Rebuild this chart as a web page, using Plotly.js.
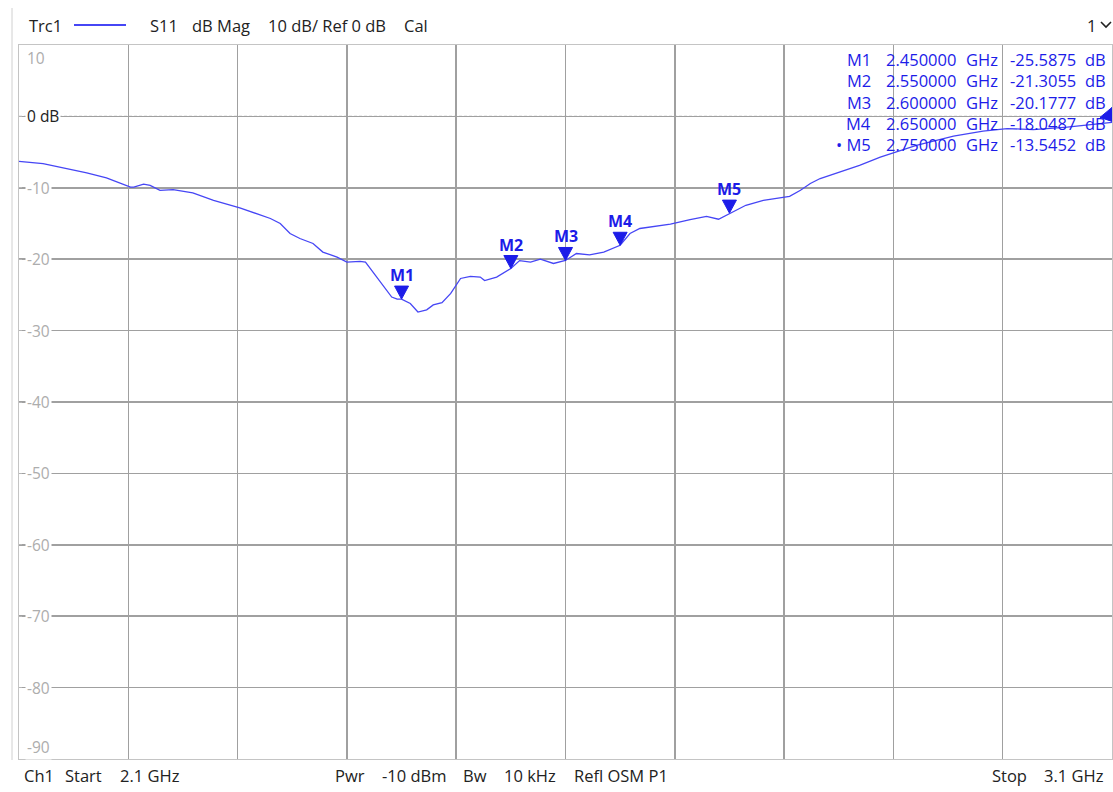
<!DOCTYPE html>
<html><head><meta charset="utf-8">
<script src="https://cdn.plot.ly/plotly-3.0.1.min.js"></script>
<style>html,body{margin:0;padding:0;background:#fff}#chart{width:1113px;height:792px}</style>
</head><body><div id="chart"></div>
<script>
// ---- data ----
const freqGHz = [2.100,2.122,2.162,2.180,2.202,2.205,2.214,2.220,2.229,2.241,2.259,2.278,2.302,2.330,2.339,2.348,2.357,2.369,2.378,2.391,2.400,2.412,2.417,2.424,2.433,2.441,2.446,2.450,2.458,2.465,2.473,2.479,2.487,2.495,2.504,2.513,2.522,2.526,2.537,2.550,2.558,2.568,2.577,2.589,2.600,2.610,2.622,2.635,2.650,2.659,2.668,2.680,2.696,2.714,2.729,2.740,2.747,2.750,2.765,2.781,2.799,2.805,2.815,2.824,2.833,2.851,2.869,2.888,2.903,2.921,2.955,2.982,3.004,3.028,3.059,3.089,3.100];
const s11dB = [-6.3,-6.6,-7.9,-8.6,-9.9,-9.9,-9.5,-9.65,-10.35,-10.25,-10.7,-11.75,-12.8,-14.3,-15.0,-16.4,-17.1,-17.8,-19.0,-19.7,-20.4,-20.3,-20.4,-21.8,-23.6,-25.3,-25.6,-25.5875,-26.2,-27.4,-27.1,-26.4,-26.1,-24.8,-22.7,-22.4,-22.5,-23.0,-22.5,-21.3055,-20.2,-20.4,-20.0,-20.6,-20.1777,-19.2,-19.4,-19.0,-18.0487,-16.4,-15.7,-15.4,-15.1,-14.45,-14.0,-14.4,-13.85,-13.5452,-12.45,-11.75,-11.3,-11.2,-10.35,-9.4,-8.7,-7.8,-6.85,-5.7,-5.0,-4.05,-2.75,-2.05,-1.7,-1.85,-1.5,-1.0,-0.85];
const markerNames = ['M1','M2','M3','M4','M5'];
const markerFreqGHz = [2.45,2.55,2.60,2.65,2.75];
const markerDB = [-25.5875,-21.3055,-20.1777,-18.0487,-13.5452];
const yTickVals = [10,0,-10,-20,-30,-40,-50,-60,-70,-80,-90];
const yTickLabels = ['10','0 dB','-10','-20','-30','-40','-50','-60','-70','-80','-90'];
const refLevelDB = 0;
const headerTexts = ['Trc1','S11','dB Mag','10 dB/ Ref 0 dB','Cal'];
const footerTexts = ['Ch1','Start','2.1 GHz','Pwr','-10 dBm','Bw','10 kHz','Refl OSM P1','Stop','3.1 GHz'];
const channelText = '1';

// ---- layout geometry (pixels) ----
const W = 1113, H = 792, L = 19, R = 1, T = 45, B = 33;
const PW = W - L - R, PH = H - T - B;
const px = x => (x - L) / PW;
const py = y => (H - B - y) / PH;
const headerX = [27,148,190,266,402];
const footerX = [22,63,118,333,380,461,502,572,990,1042];

const traceColor = '#4646f5';
const mkColor = '#1c1ce8';
const font = 'Open Sans, Noto Sans, sans-serif';
const FS = 16.5;

const annotations = [];
const shapes = [];

// y tick labels
yTickVals.forEach((v, i) => {
  const a = {xref:'paper', yref:'y', x: px(25), y: v, xanchor:'left', yanchor:'middle',
    text: yTickLabels[i], showarrow:false, bgcolor:'#ffffff', borderpad:1,
    font:{family:font, size:15.5, color: v === refLevelDB ? '#222' : '#adadad'}};
  if (i === 0) { a.yanchor = 'top'; a.yshift = 0; }
  if (i === yTickVals.length - 1) { a.yanchor = 'bottom'; a.yshift = -1; }
  annotations.push(a);
});

// header
headerTexts.forEach((t, i) => annotations.push({xref:'paper', yref:'paper', x:px(headerX[i]), y:py(25),
  xanchor:'left', yanchor:'middle', text:t, showarrow:false, font:{family:font, size:FS, color:'#222'}}));
shapes.push({type:'line', xref:'paper', yref:'paper', x0:px(74), x1:px(126), y0:py(25), y1:py(25),
  line:{color:traceColor, width:2}});
annotations.push({xref:'paper', yref:'paper', x:px(1098), y:py(25), xanchor:'right', yanchor:'middle',
  text:channelText, showarrow:false, font:{family:font, size:FS, color:'#222'}});
shapes.push({type:'path', xref:'paper', yref:'paper',
  path:`M ${px(1101)} ${py(22)} L ${px(1106)} ${py(27)} L ${px(1111)} ${py(22)}`,
  line:{color:'#222', width:1.6}});

// footer
footerTexts.forEach((t, i) => annotations.push({xref:'paper', yref:'paper', x:px(footerX[i]), y:py(775),
  xanchor:'left', yanchor:'middle', text:t, showarrow:false, font:{family:font, size:FS, color:'#222'}}));

// frame line at left
shapes.push({type:'line', xref:'paper', yref:'paper', x0:px(12), x1:px(12), y0:py(8), y1:py(760),
  line:{color:'#d0d0d0', width:1}});

// reference line + ref arrow
shapes.push({type:'line', xref:'paper', yref:'y', x0:0, x1:1, y0:refLevelDB, y1:refLevelDB,
  line:{color:'#555', width:1, dash:'3px,2px'}, layer:'below'});
shapes.push({type:'path', xref:'x', yref:'y', xsizemode:'pixel', ysizemode:'pixel',
  xanchor:3.1, yanchor:refLevelDB, path:'M 0 9 L -12 -1 L 0 -5 Z',
  fillcolor:mkColor, line:{color:mkColor, width:1}});

// markers on trace
markerNames.forEach((n, i) => {
  shapes.push({type:'path', xref:'x', yref:'y', xsizemode:'pixel', ysizemode:'pixel',
    xanchor:markerFreqGHz[i], yanchor:markerDB[i], path:'M -7 13 L 7 13 L 0 0 Z',
    fillcolor:mkColor, line:{color:mkColor, width:1}});
  annotations.push({xref:'x', yref:'y', x:markerFreqGHz[i], y:markerDB[i], xanchor:'center', yanchor:'bottom',
    yshift:12, text:'<b>'+n+'</b>', showarrow:false, borderpad:0,
    font:{family:font, size:16, color:mkColor}});
});

// marker table
markerNames.forEach((n, i) => {
  const y = py(59 + i * 21.5);
  const f = {family:font, size:FS, color:mkColor};
  annotations.push({xref:'paper', yref:'paper', x:px(873), y, xanchor:'right', yanchor:'middle',
    text:(i === markerNames.length - 1 ? '• ' : '') + n, showarrow:false, font:f});
  annotations.push({xref:'paper', yref:'paper', x:px(958), y, xanchor:'right', yanchor:'middle',
    text:markerFreqGHz[i].toFixed(6), showarrow:false, font:f});
  annotations.push({xref:'paper', yref:'paper', x:px(964), y, xanchor:'left', yanchor:'middle',
    text:'GHz', showarrow:false, font:f});
  annotations.push({xref:'paper', yref:'paper', x:px(1078), y, xanchor:'right', yanchor:'middle',
    text:markerDB[i].toFixed(4), showarrow:false, font:f});
  annotations.push({xref:'paper', yref:'paper', x:px(1083), y, xanchor:'left', yanchor:'middle',
    text:'dB', showarrow:false, font:f});
});

const data = [{x:freqGHz, y:s11dB, type:'scatter', mode:'lines',
  line:{color:traceColor, width:1.3}, hoverinfo:'skip', cliponaxis:true}];

const layout = {
  width:W, height:H, margin:{l:L, r:R, t:T, b:B, pad:0},
  paper_bgcolor:'#fff', plot_bgcolor:'#fff', showlegend:false,
  font:{family:font},
  xaxis:{range:[2.1,3.1], dtick:0.1, tick0:2.1, showgrid:true, gridcolor:'#a0a0a0', gridwidth:1.5,
    showticklabels:false, zeroline:false, showline:true, mirror:true, linecolor:'#c4c4c4', linewidth:1,
    ticks:'', fixedrange:true},
  yaxis:{range:[-90,10], tickvals:yTickVals, showgrid:true, gridcolor:'#a0a0a0', gridwidth:1.5,
    showticklabels:false, zeroline:false, showline:true, mirror:true, linecolor:'#c4c4c4', linewidth:1,
    ticks:'inside', ticklen:3, tickcolor:'#b5b5b5', fixedrange:true},
  annotations, shapes
};
Plotly.newPlot('chart', data, layout, {displayModeBar:false, staticPlot:true});
</script></body></html>
